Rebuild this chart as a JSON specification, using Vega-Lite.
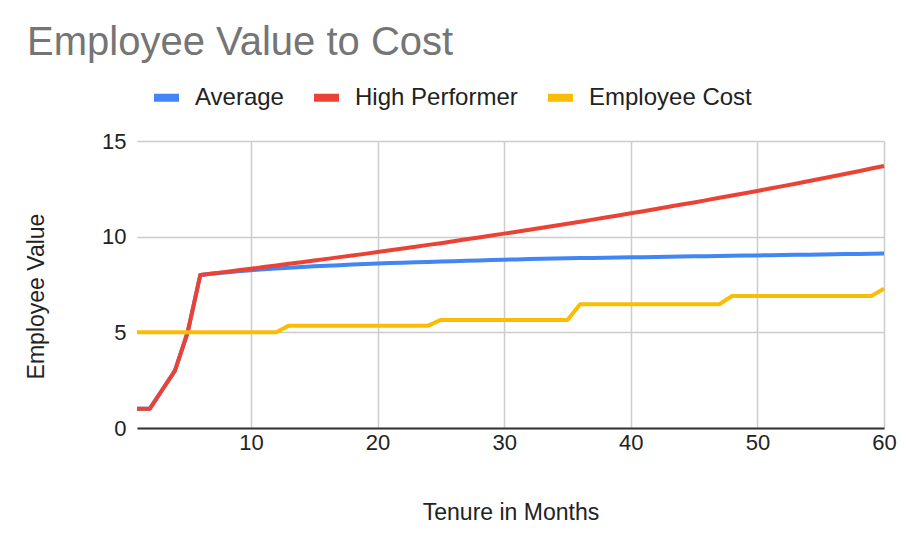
{
  "$schema": "https://vega.github.io/schema/vega-lite/v6.json",
  "width": 747,
  "height": 287,
  "autosize": "none",
  "padding": {"left": 137, "top": 141, "right": 26, "bottom": 108},
  "background": "white",
  "config": {
    "font": "Liberation Sans",
    "view": {"stroke": null},
    "axis": {"labelFont": "Liberation Sans", "titleFont": "Liberation Sans", "labelColor": "#222222", "titleColor": "#222222", "titleFontWeight": "normal"}
  },
  "title": {
    "text": "Employee Value to Cost",
    "anchor": "start",
    "frame": "group",
    "dx": -110,
    "dy": 42,
    "offset": 28,
    "baseline": "alphabetic",
    "fontSize": 40,
    "fontWeight": "normal",
    "color": "#757575",
    "font": "Liberation Sans"
  },
  "data": {
    "values": [
      {"m":1,"s":"Average","v":1},{"m":2,"s":"Average","v":1},{"m":3,"s":"Average","v":2},{"m":4,"s":"Average","v":3},{"m":5,"s":"Average","v":5},
      {"m":6,"s":"Average","v":8.0},{"m":7,"s":"Average","v":8.07},{"m":8,"s":"Average","v":8.13},{"m":9,"s":"Average","v":8.19},{"m":10,"s":"Average","v":8.25},
      {"m":11,"s":"Average","v":8.3},{"m":12,"s":"Average","v":8.34},{"m":13,"s":"Average","v":8.38},{"m":14,"s":"Average","v":8.42},{"m":15,"s":"Average","v":8.45},
      {"m":16,"s":"Average","v":8.48},{"m":17,"s":"Average","v":8.51},{"m":18,"s":"Average","v":8.54},{"m":19,"s":"Average","v":8.57},{"m":20,"s":"Average","v":8.6},
      {"m":21,"s":"Average","v":8.62},{"m":22,"s":"Average","v":8.64},{"m":23,"s":"Average","v":8.66},{"m":24,"s":"Average","v":8.68},{"m":25,"s":"Average","v":8.7},
      {"m":26,"s":"Average","v":8.72},{"m":27,"s":"Average","v":8.74},{"m":28,"s":"Average","v":8.76},{"m":29,"s":"Average","v":8.78},{"m":30,"s":"Average","v":8.8},
      {"m":31,"s":"Average","v":8.81},{"m":32,"s":"Average","v":8.83},{"m":33,"s":"Average","v":8.84},{"m":34,"s":"Average","v":8.86},{"m":35,"s":"Average","v":8.87},
      {"m":36,"s":"Average","v":8.88},{"m":37,"s":"Average","v":8.89},{"m":38,"s":"Average","v":8.9},{"m":39,"s":"Average","v":8.91},{"m":40,"s":"Average","v":8.92},
      {"m":41,"s":"Average","v":8.93},{"m":42,"s":"Average","v":8.94},{"m":43,"s":"Average","v":8.95},{"m":44,"s":"Average","v":8.96},{"m":45,"s":"Average","v":8.97},
      {"m":46,"s":"Average","v":8.98},{"m":47,"s":"Average","v":8.99},{"m":48,"s":"Average","v":9.0},{"m":49,"s":"Average","v":9.01},{"m":50,"s":"Average","v":9.02},
      {"m":51,"s":"Average","v":9.03},{"m":52,"s":"Average","v":9.04},{"m":53,"s":"Average","v":9.05},{"m":54,"s":"Average","v":9.06},{"m":55,"s":"Average","v":9.07},
      {"m":56,"s":"Average","v":9.08},{"m":57,"s":"Average","v":9.09},{"m":58,"s":"Average","v":9.1},{"m":59,"s":"Average","v":9.11},{"m":60,"s":"Average","v":9.12},
      {"m":1,"s":"High Performer","v":1},{"m":2,"s":"High Performer","v":1},{"m":3,"s":"High Performer","v":2},{"m":4,"s":"High Performer","v":3},{"m":5,"s":"High Performer","v":5},
      {"m":6,"s":"High Performer","v":8.0},{"m":7,"s":"High Performer","v":8.08},{"m":8,"s":"High Performer","v":8.16},{"m":9,"s":"High Performer","v":8.24},{"m":10,"s":"High Performer","v":8.32},
      {"m":11,"s":"High Performer","v":8.41},{"m":12,"s":"High Performer","v":8.49},{"m":13,"s":"High Performer","v":8.58},{"m":14,"s":"High Performer","v":8.66},{"m":15,"s":"High Performer","v":8.75},
      {"m":16,"s":"High Performer","v":8.84},{"m":17,"s":"High Performer","v":8.93},{"m":18,"s":"High Performer","v":9.01},{"m":19,"s":"High Performer","v":9.1},{"m":20,"s":"High Performer","v":9.2},
      {"m":21,"s":"High Performer","v":9.29},{"m":22,"s":"High Performer","v":9.38},{"m":23,"s":"High Performer","v":9.47},{"m":24,"s":"High Performer","v":9.57},{"m":25,"s":"High Performer","v":9.66},
      {"m":26,"s":"High Performer","v":9.76},{"m":27,"s":"High Performer","v":9.86},{"m":28,"s":"High Performer","v":9.96},{"m":29,"s":"High Performer","v":10.06},{"m":30,"s":"High Performer","v":10.16},
      {"m":31,"s":"High Performer","v":10.26},{"m":32,"s":"High Performer","v":10.36},{"m":33,"s":"High Performer","v":10.47},{"m":34,"s":"High Performer","v":10.57},{"m":35,"s":"High Performer","v":10.68},
      {"m":36,"s":"High Performer","v":10.78},{"m":37,"s":"High Performer","v":10.89},{"m":38,"s":"High Performer","v":11.0},{"m":39,"s":"High Performer","v":11.11},{"m":40,"s":"High Performer","v":11.22},
      {"m":41,"s":"High Performer","v":11.33},{"m":42,"s":"High Performer","v":11.45},{"m":43,"s":"High Performer","v":11.56},{"m":44,"s":"High Performer","v":11.68},{"m":45,"s":"High Performer","v":11.79},
      {"m":46,"s":"High Performer","v":11.91},{"m":47,"s":"High Performer","v":12.03},{"m":48,"s":"High Performer","v":12.15},{"m":49,"s":"High Performer","v":12.27},{"m":50,"s":"High Performer","v":12.39},
      {"m":51,"s":"High Performer","v":12.52},{"m":52,"s":"High Performer","v":12.64},{"m":53,"s":"High Performer","v":12.77},{"m":54,"s":"High Performer","v":12.9},{"m":55,"s":"High Performer","v":13.03},
      {"m":56,"s":"High Performer","v":13.16},{"m":57,"s":"High Performer","v":13.29},{"m":58,"s":"High Performer","v":13.42},{"m":59,"s":"High Performer","v":13.56},{"m":60,"s":"High Performer","v":13.69},
      {"m":1,"s":"Employee Cost","v":5},{"m":2,"s":"Employee Cost","v":5},{"m":3,"s":"Employee Cost","v":5},{"m":4,"s":"Employee Cost","v":5},{"m":5,"s":"Employee Cost","v":5},
      {"m":6,"s":"Employee Cost","v":5},{"m":7,"s":"Employee Cost","v":5},{"m":8,"s":"Employee Cost","v":5},{"m":9,"s":"Employee Cost","v":5},{"m":10,"s":"Employee Cost","v":5},
      {"m":11,"s":"Employee Cost","v":5},{"m":12,"s":"Employee Cost","v":5},{"m":13,"s":"Employee Cost","v":5.35},{"m":14,"s":"Employee Cost","v":5.35},{"m":15,"s":"Employee Cost","v":5.35},
      {"m":16,"s":"Employee Cost","v":5.35},{"m":17,"s":"Employee Cost","v":5.35},{"m":18,"s":"Employee Cost","v":5.35},{"m":19,"s":"Employee Cost","v":5.35},{"m":20,"s":"Employee Cost","v":5.35},
      {"m":21,"s":"Employee Cost","v":5.35},{"m":22,"s":"Employee Cost","v":5.35},{"m":23,"s":"Employee Cost","v":5.35},{"m":24,"s":"Employee Cost","v":5.35},{"m":25,"s":"Employee Cost","v":5.65},
      {"m":26,"s":"Employee Cost","v":5.65},{"m":27,"s":"Employee Cost","v":5.65},{"m":28,"s":"Employee Cost","v":5.65},{"m":29,"s":"Employee Cost","v":5.65},{"m":30,"s":"Employee Cost","v":5.65},
      {"m":31,"s":"Employee Cost","v":5.65},{"m":32,"s":"Employee Cost","v":5.65},{"m":33,"s":"Employee Cost","v":5.65},{"m":34,"s":"Employee Cost","v":5.65},{"m":35,"s":"Employee Cost","v":5.65},
      {"m":36,"s":"Employee Cost","v":6.47},{"m":37,"s":"Employee Cost","v":6.47},{"m":38,"s":"Employee Cost","v":6.47},{"m":39,"s":"Employee Cost","v":6.47},{"m":40,"s":"Employee Cost","v":6.47},
      {"m":41,"s":"Employee Cost","v":6.47},{"m":42,"s":"Employee Cost","v":6.47},{"m":43,"s":"Employee Cost","v":6.47},{"m":44,"s":"Employee Cost","v":6.47},{"m":45,"s":"Employee Cost","v":6.47},
      {"m":46,"s":"Employee Cost","v":6.47},{"m":47,"s":"Employee Cost","v":6.47},{"m":48,"s":"Employee Cost","v":6.9},{"m":49,"s":"Employee Cost","v":6.9},{"m":50,"s":"Employee Cost","v":6.9},
      {"m":51,"s":"Employee Cost","v":6.9},{"m":52,"s":"Employee Cost","v":6.9},{"m":53,"s":"Employee Cost","v":6.9},{"m":54,"s":"Employee Cost","v":6.9},{"m":55,"s":"Employee Cost","v":6.9},
      {"m":56,"s":"Employee Cost","v":6.9},{"m":57,"s":"Employee Cost","v":6.9},{"m":58,"s":"Employee Cost","v":6.9},{"m":59,"s":"Employee Cost","v":6.9},{"m":60,"s":"Employee Cost","v":7.28}
    ]
  },
  "mark": {"type": "line", "strokeWidth": 4, "strokeJoin": "round", "clip": false},
  "encoding": {
    "x": {
      "field": "m", "type": "quantitative",
      "scale": {"domain": [1, 60], "nice": false, "zero": false},
      "axis": {
        "title": "Tenure in Months", "values": [10, 20, 30, 40, 50, 60],
        "grid": true, "gridColor": "#cccccc", "gridWidth": 1.5,
        "ticks": false, "domainColor": "#333333", "domainWidth": 2,
        "labelFontSize": 22, "labelPadding": 4, "labelFlush": false,
        "titleFontSize": 23, "titlePadding": 48
      }
    },
    "y": {
      "field": "v", "type": "quantitative",
      "scale": {"domain": [0, 15], "nice": false},
      "axis": {
        "title": "Employee Value", "values": [0, 5, 10, 15],
        "grid": true, "gridColor": "#cccccc", "gridWidth": 1.5,
        "ticks": false, "domain": false,
        "labelFontSize": 22, "labelPadding": 11,
        "titleFontSize": 23, "titlePadding": 53, "titleY": 155
      }
    },
    "color": {
      "field": "s", "type": "nominal", "title": null,
      "scale": {"domain": ["Average", "High Performer", "Employee Cost"], "range": ["#4285F4", "#EA4335", "#FBBC04"]},
      "legend": {
        "orient": "none", "legendX": 13, "legendY": -60, "direction": "horizontal",
        "symbolType": "stroke", "symbolSize": 625, "symbolStrokeWidth": 8,
        "labelFontSize": 24, "labelColor": "#222222", "labelFont": "Liberation Sans", "labelLimit": 0,
        "labelOffset": 12, "columnPadding": 14, "padding": 0
      }
    }
  }
}
